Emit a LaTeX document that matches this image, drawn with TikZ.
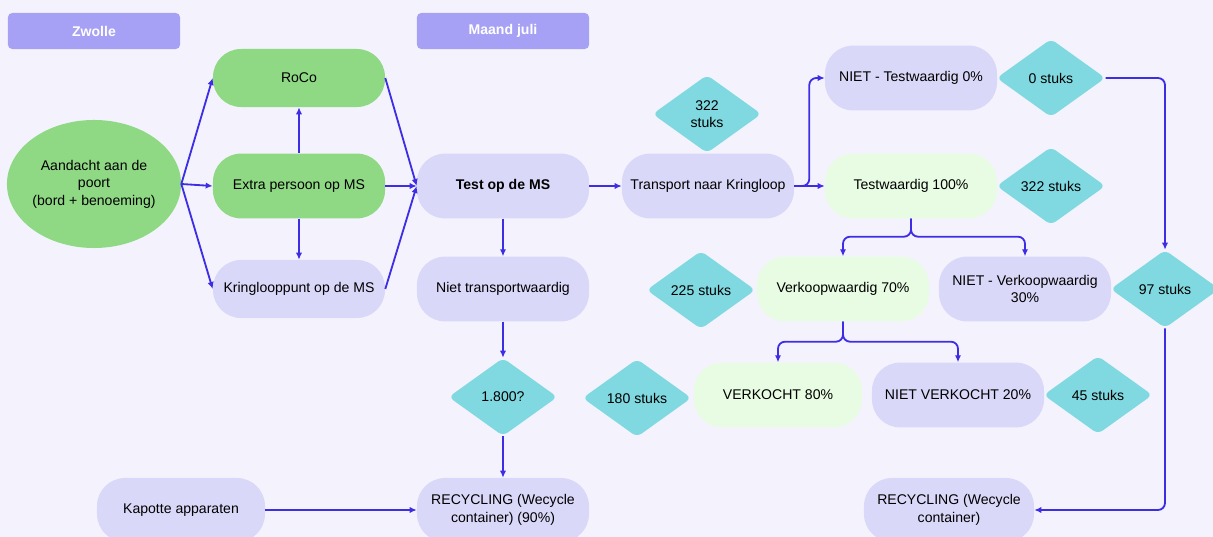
\documentclass[tikz,border=0pt]{standalone}
\usepackage{fontspec}
\setmainfont{Liberation Sans}
\usepackage{tikz}
\usepackage{xcolor}
\usetikzlibrary{shapes.geometric,arrows.meta}
\definecolor{bgc}{HTML}{F4F3FD}
\definecolor{headc}{HTML}{A6A1F4}
\definecolor{greenc}{HTML}{8FD985}
\definecolor{lavc}{HTML}{DAD8F8}
\definecolor{lgreenc}{HTML}{E7FCE2}
\definecolor{tealc}{HTML}{80D9E0}
\definecolor{arrc}{HTML}{3D2EE6}

\begin{document}
\begin{tikzpicture}[x=0.025cm,y=-0.025cm,font=\fontsize{10}{12.5}\selectfont]
  \tikzstyle{head}=[rectangle,rounded corners=3pt,fill=headc,text=white,font=\bfseries\fontsize{10}{12}\selectfont,minimum width=4.3cm,minimum height=0.9cm]
  \tikzstyle{pill}=[rectangle,rounded corners=0.7cm,minimum width=4.3cm,minimum height=1.62cm,align=center,inner sep=2pt]
  \tikzstyle{boxg}=[pill,fill=greenc]
  \tikzstyle{boxl}=[pill,fill=lavc]
  \tikzstyle{boxlg}=[pill,fill=lgreenc]
  \tikzstyle{dian}=[diamond,fill=tealc,rounded corners=4pt,inner sep=0,minimum width=2.72cm,minimum height=1.95cm,align=center]
  \tikzstyle{pijl}=[draw=arrc,line width=1.3pt,-{Latex[length=5pt,width=4.5pt]}]
  \path[use as bounding box,fill=bgc] (0,0) rectangle (1213,537);
  % koppen
  \node(zw)[head] at (94,31) {Zwolle};
  \node(mj)[head] at (503,31) {Maand juli};
  % linker deel
  \node(aan)[ellipse,fill=greenc,minimum width=4.3cm,minimum height=3.2cm,align=center,inner sep=0]
    at (94,184) {Aandacht aan de\\poort\\(bord + benoeming)};
  \node(roco)[boxg,minimum height=1.45cm] at (299,78) {RoCo};
  \node(extra)[boxg] at (299,186) {Extra persoon op MS};
  \node(kring)[boxl,minimum height=1.45cm] at (299,289) {Kringlooppunt op de MS};
  \node(test)[boxl] at (503,186) {\bfseries Test op de MS};
  \node(nietr)[boxl] at (503,289) {Niet transportwaardig};
  \node(d1800)[dian] at (503,397) {1.800?};
  \node(recl)[boxl,minimum height=1.6cm] at (503,510) {RECYCLING (Wecycle\\container) (90\%)};
  \node(kap)[boxl,minimum width=4.2cm,minimum height=1.6cm] at (181,510) {Kapotte apparaten};
  % rechter deel
  \node(trans)[boxl] at (708,186) {Transport naar Kringloop};
  \node(d322a)[dian] at (707,114) {322\\stuks};
  \node(nt)[boxl] at (911,78) {NIET - Testwaardig 0\%};
  \node(d0)[dian] at (1051,78) {0 stuks};
  \node(tw)[boxlg] at (911,186) {Testwaardig 100\%};
  \node(d322b)[dian] at (1051,186) {322 stuks};
  \node(vw)[boxlg] at (843,289) {Verkoopwaardig 70\%};
  \node(d225)[dian] at (701,290) {225 stuks};
  \node(nvw)[boxl] at (1025,289) {NIET - Verkoopwaardig\\30\%};
  \node(d97)[dian] at (1165,289) {97 stuks};
  \node(vk)[boxlg,minimum width=4.2cm] at (778,395) {VERKOCHT 80\%};
  \node(d180)[dian] at (637,398) {180 stuks};
  \node(nvk)[boxl] at (958,395) {NIET VERKOCHT 20\%};
  \node(d45)[dian] at (1098,395) {45 stuks};
  \node(recr)[boxl,minimum width=4.25cm,minimum height=1.6cm] at (949,510) {RECYCLING (Wecycle\\container)};
  % pijlen
  \draw[pijl] (aan.east) -- (roco.west);
  \draw[pijl] (aan.east) -- (extra.west);
  \draw[pijl] (aan.east) -- (kring.west);
  \draw[pijl] (extra.north) -- (roco.south);
  \draw[pijl] (extra.south) -- (kring.north);
  \draw[pijl] (roco.east) -- (test.west);
  \draw[pijl] (extra.east) -- (test.west);
  \draw[pijl] (kring.east) -- (test.west);
  \draw[pijl] (test.south) -- (nietr.north);
  \draw[pijl] (nietr.south) -- (d1800.north);
  \draw[pijl] (d1800.south) -- (recl.north);
  \draw[pijl] (kap.east) -- (recl.west);
  \draw[pijl] (test.east) -- (trans.west);
  \draw[pijl] (trans.east) -- (tw.west);
  \draw[pijl,rounded corners=5pt] (trans.east) -- ++(15,0) |- (nt.west);
  \draw[pijl,rounded corners=5pt] (d0.east) -| (d97.north);
  \draw[pijl,rounded corners=5pt] (d97.south) |- (recr.east);
  \draw[pijl,rounded corners=5pt] (tw.south) -- ++(0,18) -| (vw.north);
  \draw[pijl,rounded corners=5pt] (tw.south) -- ++(0,18) -| (nvw.north);
  \draw[pijl,rounded corners=5pt] (vw.south) -- ++(0,20) -| (vk.north);
  \draw[pijl,rounded corners=5pt] (vw.south) -- ++(0,20) -| (nvk.north);
\end{tikzpicture}
\end{document}
